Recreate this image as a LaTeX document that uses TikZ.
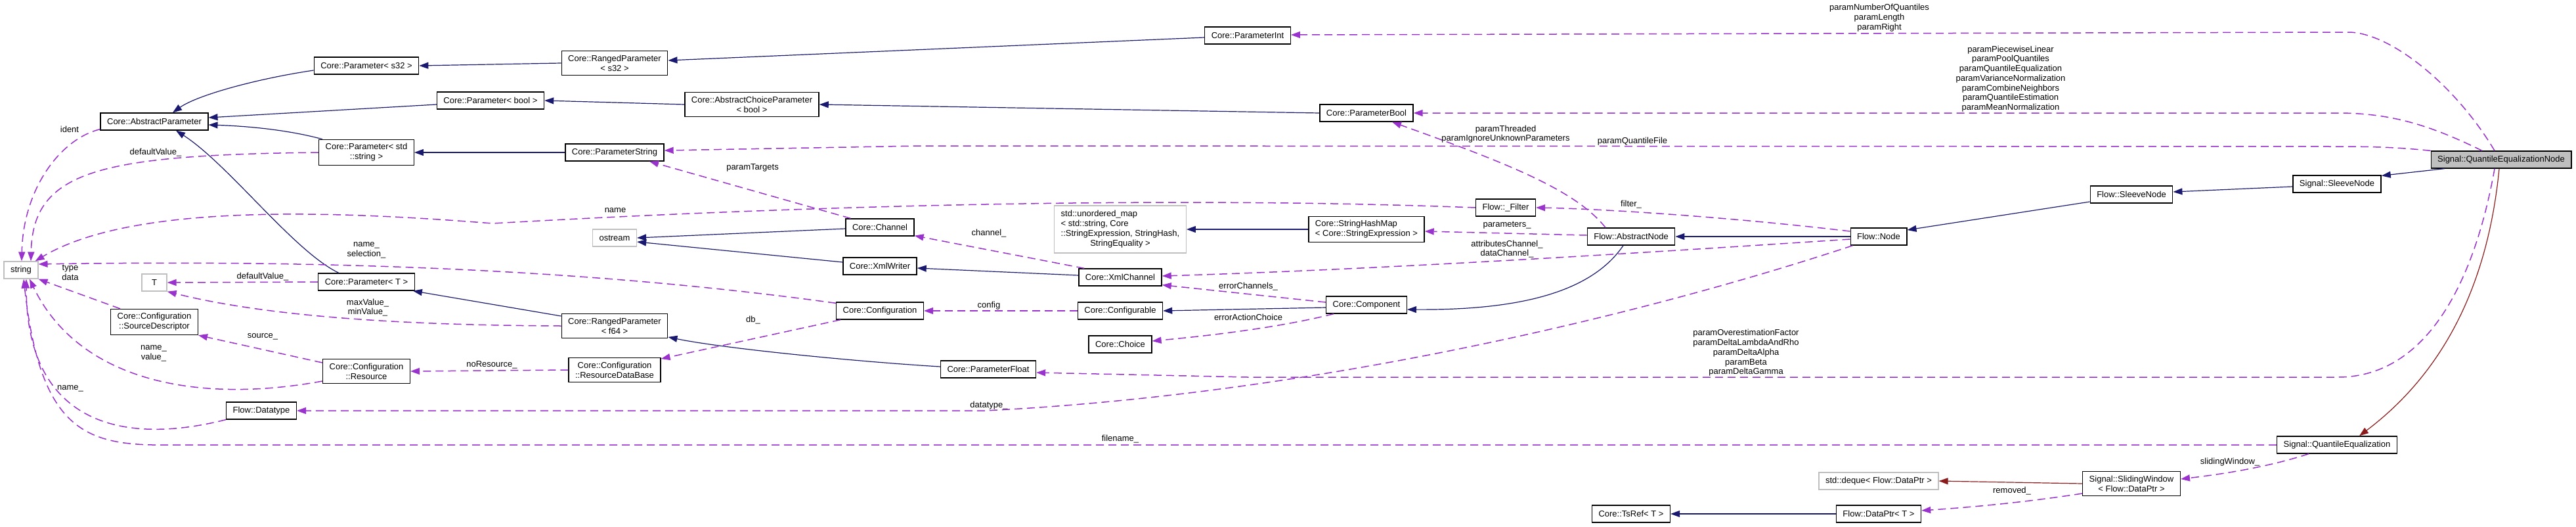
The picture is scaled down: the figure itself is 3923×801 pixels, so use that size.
\documentclass[tikz,border=0pt]{standalone}
\usepackage{fontspec}
\setmainfont{Liberation Sans}
\usetikzlibrary{arrows.meta}
\definecolor{navyc}{HTML}{191970}
\definecolor{usec}{HTML}{9A32CD}
\definecolor{privc}{HTML}{8B1A1A}
\definecolor{extc}{HTML}{BFBFBF}
\newcommand{\boxfont}{\fontsize{13pt}{15pt}\selectfont}
\newcommand{\lblfont}{\fontsize{13pt}{14.7pt}\selectfont}
\tikzset{
  cls/.style={draw=black, line width=1.3pt, fill=white, inner xsep=10pt, inner ysep=6pt, minimum height=26pt, align=center, font=\boxfont},
  ext/.style={cls, draw=extc},
  lbl/.style={align=center, font=\lblfont, inner sep=0pt},
  inh/.style={draw=navyc, line width=1.2pt, -{Triangle[length=14pt,width=10pt]}},
  priv/.style={draw=privc, line width=1.2pt, -{Triangle[length=14pt,width=10pt]}},
  use/.style={draw=usec, line width=1.5pt, dash pattern=on 12pt off 7pt, -{Triangle[length=14pt,width=10pt]}},
}
\begin{document}
\begin{tikzpicture}[x=1pt,y=-1pt]
\useasboundingbox (0,0) rectangle (3923,801);
% nodes
\node[ext] (str) at (32,411) {string};
\node[cls] (ap) at (235,185) {Core::AbstractParameter};
\node[cls] (ps32) at (558,100) {Core::Parameter< s32 >};
\node[cls] (pstr) at (558,232) {Core::Parameter< std\\::string >};
\node[cls] (pT) at (558,429) {Core::Parameter< T >};
\node[ext, minimum width=38pt] (T) at (235,430) {T};
\node[cls] (sd) at (235,490) {Core::Configuration\\::SourceDescriptor};
\node[cls] (res) at (558,565) {Core::Configuration\\::Resource};
\node[cls] (dt) at (398,625) {Flow::Datatype};
\node[cls] (pb) at (747,153) {Core::Parameter< bool >};
\node[cls] (rs32) at (936,96) {Core::RangedParameter\\< s32 >};
\node[cls] (pstrg) at (936,232) {Core::ParameterString};
\node[ext] (ostr) at (936,362) {ostream};
\node[cls] (rf64) at (936,496) {Core::RangedParameter\\< f64 >};
\node[cls] (rdb) at (936,563) {Core::Configuration\\::ResourceDataBase};
\node[cls] (acp) at (1145,159) {Core::AbstractChoiceParameter\\< bool >};
\node[cls] (chan) at (1340,346) {Core::Channel};
\node[cls] (xmlw) at (1340,405) {Core::XmlWriter};
\node[cls] (cfg) at (1340,473) {Core::Configuration};
\node[cls] (pfl) at (1505,562) {Core::ParameterFloat};
\node[cls] (pint) at (1900,54) {Core::ParameterInt};
\node[ext] (umap) at (1706,349) {\begin{tabular}{@{}l@{}}std::unordered\_map\\< std::string, Core\\::StringExpression, StringHash,\\\multicolumn{1}{@{}c@{}}{StringEquality >}\end{tabular}};
\node[cls] (xmlch) at (1706,422) {Core::XmlChannel};
\node[cls] (cfgb) at (1706,473) {Core::Configurable};
\node[cls] (choice) at (1706,524) {Core::Choice};
\node[cls] (pbc) at (2081,172) {Core::ParameterBool};
\node[cls, align=left] (shm) at (2081,349) {Core::StringHashMap\\< Core::StringExpression >};
\node[cls] (comp) at (2081,464) {Core::Component};
\node[cls] (filt) at (2293,316) {Flow::\_Filter};
\node[cls] (anode) at (2484,360) {Flow::AbstractNode};
\node[cls] (tsref) at (2484,782) {Core::TsRef< T >};
\node[cls] (fnode) at (2861,360) {Flow::Node};
\node[ext] (deque) at (2861,732) {std::deque< Flow::DataPtr >};
\node[cls] (dptr) at (2861,782) {Flow::DataPtr< T >};
\node[cls] (fsleeve) at (3246,296) {Flow::SleeveNode};
\node[cls] (sw) at (3246,736) {Signal::SlidingWindow\\< Flow::DataPtr >};
\node[cls] (ssleeve) at (3559,280) {Signal::SleeveNode};
\node[cls] (qe) at (3559,677) {Signal::QuantileEqualization};
\node[cls, fill=extc] (qen) at (3809,243) {Signal::QuantileEqualizationNode};
% inheritance
\draw[inh] ([yshift=-7pt]ps32.west) .. controls (390,120) and (300,145) .. ([xshift=28pt]ap.north);
\draw[inh] ([yshift=-6pt]pb.west) -- ([yshift=6pt]ap.east);
\draw[inh] ([xshift=6pt]pstr.north west) .. controls (440,198) and (380,192) .. ([yshift=-5pt]ap.east);
\draw[inh] ([xshift=-42pt]pT.north) .. controls (448,383) and (348,250) .. ([xshift=33pt]ap.south);
\draw[inh] (rs32.west) -- (ps32.east);
\draw[inh] (acp.west) -- (pb.east);
\draw[inh] (pstrg.west) -- (pstr.east);
\draw[inh] ([yshift=15pt]rf64.west) -- ([xshift=-3pt]pT.south east);
\draw[inh] ([yshift=-3pt]pint.west) -- ([yshift=4pt]rs32.east);
\draw[inh] (pbc.west) -- (acp.east);
\draw[inh] ([yshift=4pt]pfl.west) .. controls (1300,550) and (1100,530) .. ([yshift=2pt]rf64.south east);
\draw[inh] ([yshift=-2pt]chan.west) -- (ostr.east);
\draw[inh] ([yshift=6pt]xmlw.west) -- ([yshift=-6pt]ostr.east);
\draw[inh] ([yshift=3pt]xmlch.west) -- ([yshift=-3pt]xmlw.east);
\draw[inh] (shm.west) -- (umap.east);
\draw[inh] ([yshift=-4pt]comp.west) -- (cfgb.east);
\draw[inh] ([xshift=-12pt]anode.south) .. controls (2420,450) and (2300,472) .. ([yshift=-7pt]comp.east);
\draw[inh] (fnode.west) -- (anode.east);
\draw[inh] ([yshift=-11pt]fsleeve.west) -- ([yshift=10pt]fnode.east);
\draw[inh] ([yshift=-4pt]ssleeve.west) -- ([yshift=4pt]fsleeve.east);
\draw[inh] ([xshift=21pt]qen.south west) -- ([yshift=-1pt]ssleeve.north east);
\draw[inh] (dptr.west) -- (tsref.east);
\draw[priv] (sw.west) -- (deque.east);
\draw[priv] ([xshift=-3pt]qen.south) .. controls (3790,420) and (3730,560) .. ([xshift=34pt]qe.north);
% usage
\draw[use] ([yshift=2pt]ap.south west) .. controls (90,212) and (35,290) .. ([xshift=1pt]str.north);
\draw[use] (pstr.west) .. controls (150,236) and (50,260) .. ([xshift=15pt]str.north);
\draw[use] (filt.west) .. controls (1700,295) and (1100,320) .. (750,340) .. controls (500,320) and (200,310) .. ([xshift=-5pt]str.north east);
\draw[use] ([yshift=-2pt]cfg.north west) .. controls (900,410) and (500,395) .. ([yshift=9pt]str.east);
\draw[use] (pT.west) -- (T.east);
\draw[use] (rf64.west) .. controls (600,495) and (400,480) .. (T.south east);
\draw[use] ([xshift=-52pt]sd.north) -- (str.south east);
\draw[use] ([yshift=13pt]res.west) -- (sd.south east);
\draw[use] ([yshift=-15pt]res.west) .. controls (300,615) and (120,580) .. ([xshift=13pt]str.south);
\draw[use] (dt.south west) .. controls (180,680) and (40,640) .. ([xshift=8pt]str.south);
\draw[use] (qe.west) -- (232,677) .. controls (120,675) and (60,640) .. ([xshift=4pt]str.south);
\draw[use] ([xshift=8pt]chan.north west) -- ([xshift=53pt]pstrg.south);
\draw[use] ([xshift=9pt]xmlch.north west) -- ([yshift=1pt]chan.south east);
\draw[use] ([yshift=4pt]comp.west) -- ([yshift=2pt]xmlch.south east);
\draw[use] ([yshift=-4pt]fnode.west) .. controls (2500,385) and (2100,410) .. ([yshift=2pt]xmlch.east);
\draw[use] ([xshift=12pt]comp.south west) .. controls (1950,498) and (1850,510) .. ([yshift=5pt]choice.east);
\draw[use] ([yshift=2pt]anode.west) -- ([yshift=-3pt]shm.east);
\draw[use] ([xshift=-39pt]anode.north) .. controls (2400,290) and (2300,250) .. ([xshift=39pt]pbc.south);
\draw[use] ([yshift=8pt]fnode.west) .. controls (2650,332) and (2450,318) .. (filt.east);
\draw[use] ([xshift=4pt]fnode.south west) .. controls (2500,480) and (2000,600) .. (1500,625) -- (dt.east);
\draw[use] ([xshift=-10pt]qen.north) .. controls (3740,130) and (3640,49) .. (3576,49) -- ([yshift=1pt]pint.east);
\draw[use] ([xshift=-29pt]qen.north) .. controls (3700,190) and (3640,172) .. (3560,172) -- (pbc.east);
\draw[use] (qen.north west) .. controls (3650,224) and (3610,223) .. (3560,223) -- (1400,222) -- ([yshift=3pt]pstrg.east);
\draw[use] ([xshift=-10pt]qen.south) .. controls (3770,420) and (3700,574) .. (3560,574) -- (1900,574) -- ([yshift=-5pt]pfl.east);
\draw[use] ([xshift=-43pt]qe.south) .. controls (3450,712) and (3380,722) .. ([yshift=7pt]sw.east);
\draw[use] ([yshift=-15pt]sw.west) .. controls (3080,765) and (3000,772) .. ([yshift=5pt]dptr.east);
\draw[use] (cfgb.west) -- (cfg.east);
\draw[use] ([xshift=7pt]cfg.south west) -- ([yshift=-2pt]rdb.north east);
\draw[use] (rdb.west) -- (res.east);
% labels
\node[lbl] (l1) at (106,197) {ident};
\node[lbl] (l2) at (237,232) {defaultValue\_};
\node[lbl] (l3) at (558,381) {name\_\\selection\_};
\node[lbl] (l4) at (107,415) {type\\data};
\node[lbl] (l5) at (400,421) {defaultValue\_};
\node[lbl] (l6) at (560,468) {maxValue\_\\minValue\_};
\node[lbl] (l7) at (400,512) {source\_};
\node[lbl] (l8) at (234,538) {name\_\\value\_};
\node[lbl] (l9) at (107,591) {name\_};
\node[lbl] (l10) at (937,320) {name};
\node[lbl] (l11) at (1146,255) {paramTargets};
\node[lbl] (l12) at (749,555) {noResource\_};
\node[lbl] (l13) at (1147,487) {db\_};
\node[lbl] (l14) at (1506,355) {channel\_};
\node[lbl] (l15) at (1506,465) {config};
\node[lbl] (l16) at (1901,436) {errorChannels\_};
\node[lbl] (l17) at (1901,483) {errorActionChoice};
\node[lbl] (l18) at (1506,617) {datatype\_};
\node[lbl] (l19) at (1706,668) {filename\_};
\node[lbl] (l20) at (2293,204) {paramThreaded\\paramIgnoreUnknownParameters};
\node[lbl] (l21) at (2486,215) {paramQuantileFile};
\node[lbl] (l22) at (2484,311) {filter\_};
\node[lbl] (l23) at (2295,343) {parameters\_};
\node[lbl] (l24) at (2295,379) {attributesChannel\_\\dataChannel\_};
\node[lbl] (l25) at (2862,27) {paramNumberOfQuantiles\\paramLength\\paramRight};
\node[lbl] (l26) at (3062,120) {paramPiecewiseLinear\\paramPoolQuantiles\\paramQuantileEqualization\\paramVarianceNormalization\\paramCombineNeighbors\\paramQuantileEstimation\\paramMeanNormalization};
\node[lbl] (l27) at (2659,537) {paramOverestimationFactor\\paramDeltaLambdaAndRho\\paramDeltaAlpha\\paramBeta\\paramDeltaGamma};
\node[lbl] (l28) at (3064,747) {removed\_};
\node[lbl] (l29) at (3396,703) {slidingWindow\_};
\end{tikzpicture}
\end{document}
